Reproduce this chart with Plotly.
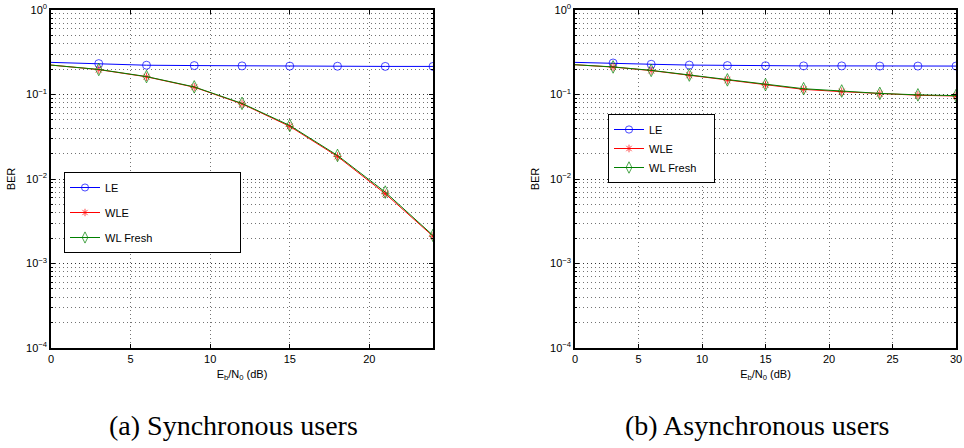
import plotly.graph_objects as go

# ---- data ----
snr_sync = [0, 3, 6, 9, 12, 15, 18, 21, 24]
le_sync = [0.240, 0.232, 0.222, 0.220, 0.218, 0.217, 0.216, 0.215, 0.215]
wle_sync = [0.223, 0.197, 0.162, 0.122, 0.0775, 0.0420, 0.0185, 0.0067, 0.00210]
wlf_sync = [0.223, 0.198, 0.163, 0.123, 0.0785, 0.0430, 0.0190, 0.0070, 0.00215]

snr_async = [0, 3, 6, 9, 12, 15, 18, 21, 24, 27, 30]
le_async = [0.240, 0.236, 0.228, 0.223, 0.220, 0.219, 0.218, 0.218, 0.217, 0.217, 0.217]
wle_async = [0.225, 0.211, 0.192, 0.169, 0.148, 0.130, 0.115, 0.108, 0.102, 0.098, 0.096]
wlf_async = [0.225, 0.212, 0.193, 0.170, 0.149, 0.131, 0.117, 0.110, 0.103, 0.099, 0.097]

series_names = ["LE", "WLE", "WL Fresh"]
y_tickvals = [1e-4, 1e-3, 1e-2, 1e-1, 1]
y_ticktext = ["10<sup>−4</sup>", "10<sup>−3</sup>", "10<sup>−2</sup>", "10<sup>−1</sup>", "10<sup>0</sup>"]
captions = ["(a) Synchronous users", "(b) Asynchronous users"]

BLUE = "#0000ff"
RED = "#ff0000"
GREEN = "#008000"
FONT = "Liberation Sans, Arial, sans-serif"

W, H = 964, 448
def px(x):
    return x / W
def py(y):
    return 1 - y / H

fig = go.Figure()

def add_set(x, le, wle, wlf, xa, ya, leg, pad):
    n = len(x)
    sp = "\u00a0" * pad
    fig.add_trace(go.Scatter(x=x, y=le, name=series_names[0] + sp, mode="lines+markers",
                             line=dict(color=BLUE, width=1),
                             marker=dict(symbol="circle-open", size=[0] + [8] * (n - 1), color=BLUE, line=dict(width=1)),
                             xaxis=xa, yaxis=ya, legend=leg, legendgroup=leg + "a"))
    fig.add_trace(go.Scatter(x=x, y=wle, name=series_names[1] + sp, mode="lines+markers",
                             line=dict(color=RED, width=1),
                             marker=dict(symbol="asterisk-open", size=[0] + [7] * (n - 1), color=RED, line=dict(width=1, color=RED)),
                             xaxis=xa, yaxis=ya, legend=leg, legendgroup=leg + "b"))
    fig.add_trace(go.Scatter(x=x, y=wlf, name=series_names[2] + sp, mode="lines+markers",
                             line=dict(color=GREEN, width=1),
                             marker=dict(symbol="diamond-tall-open", size=[0] + [9] * (n - 1), color=GREEN, line=dict(width=1)),
                             xaxis=xa, yaxis=ya, legend=leg, legendgroup=leg + "c"))

add_set(snr_sync, le_sync, wle_sync, wlf_sync, "x", "y", "legend", 27)
add_set(snr_async, le_async, wle_async, wlf_async, "x2", "y2", "legend2", 4)

grid_col = "rgba(0,0,0,0.55)"
grid_dash = "1px,3px"

def xaxis(dom, rng, anchor, ticks):
    return dict(domain=dom, range=rng, anchor=anchor, tickvals=ticks, automargin=False,
                showline=True, linecolor="black", linewidth=1.5, mirror="ticks",
                ticks="inside", ticklen=4, tickcolor="black", ticklabeloverflow="allow",
                showgrid=True, gridcolor=grid_col, griddash=grid_dash, gridwidth=1,
                zeroline=False, tickfont=dict(family=FONT, size=11, color="black"),
                title=dict(text="E<sub>b</sub>/N<sub>0</sub> (dB)", font=dict(family=FONT, size=11, color="black"), standoff=6))

def yaxis(dom, anchor):
    return dict(domain=dom, type="log", range=[-4, 0], anchor=anchor, automargin=False,
                tickvals=y_tickvals, ticktext=y_ticktext, ticklabeloverflow="allow",
                showline=True, linecolor="black", linewidth=1.5, mirror="ticks",
                ticks="inside", ticklen=4, tickcolor="black",
                showgrid=True, gridcolor=grid_col, griddash=grid_dash, gridwidth=1,
                minor=dict(dtick="D1", showgrid=True, gridcolor=grid_col, griddash=grid_dash,
                           ticks="inside", ticklen=2, tickcolor="black"),
                zeroline=False, tickfont=dict(family=FONT, size=11, color="black"),
                title=dict(text="BER", font=dict(family=FONT, size=11, color="black"), standoff=8))

ydom = [py(348), py(10)]
fig.update_layout(
    width=W, height=H,
    margin=dict(l=0, r=0, t=0, b=0, autoexpand=False),
    paper_bgcolor="white", plot_bgcolor="white",
    xaxis=xaxis([px(51), px(433)], [0, 24], "y", [0, 5, 10, 15, 20]),
    yaxis=yaxis(ydom, "x"),
    xaxis2=xaxis([px(575), px(956)], [0, 30], "y2", [0, 5, 10, 15, 20, 25, 30]),
    yaxis2=yaxis(ydom, "x2"),
    legend=dict(x=px(64), y=py(172), xanchor="left", yanchor="top",
                bgcolor="white", bordercolor="black", borderwidth=1,
                font=dict(family=FONT, size=11, color="black"), tracegroupgap=6),
    legend2=dict(x=px(608), y=py(114), xanchor="left", yanchor="top",
                 bgcolor="white", bordercolor="black", borderwidth=1,
                 font=dict(family=FONT, size=11, color="black"), tracegroupgap=0),
    showlegend=True,
)

for txt, xc in zip(captions, [233, 757]):
    fig.add_annotation(text=txt, x=px(xc), y=py(425), xref="paper", yref="paper",
                       xanchor="center", yanchor="middle", showarrow=False,
                       font=dict(family="Liberation Serif, DejaVu Serif, serif", size=28, color="black"))

fig.write_html("out.html", config={"displayModeBar": False},
               post_script="document.body.style.margin='0';")
